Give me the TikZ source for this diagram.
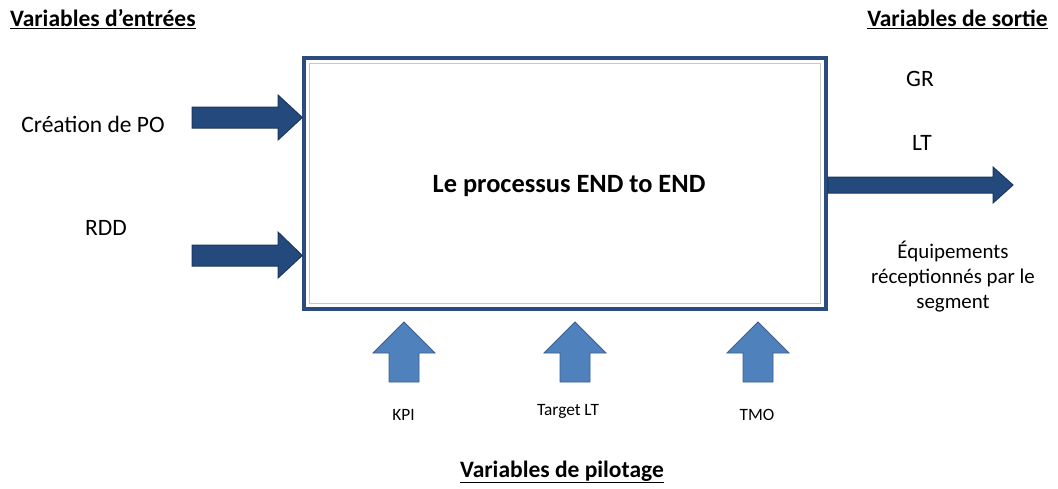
\documentclass[tikz,border=0pt]{standalone}
\usepackage{fontspec}
\setmainfont{Carlito}
\begin{document}
\begin{tikzpicture}[x=1pt,y=-1pt,
  darkarrow/.style={fill=arrowdark,draw=arrowdarkline,line width=1pt,line join=miter},
  lightarrow/.style={fill=arrowlight,draw=arrowlightline,line width=0.8pt,line join=miter},
  heading/.style={font=\fontsize{23.5}{26}\selectfont\bfseries,inner sep=0pt},
  label/.style={font=\fontsize{23.5}{26}\selectfont,inner sep=0pt},
  small/.style={font=\fontsize{17.3}{20}\selectfont,inner sep=0pt}]
\definecolor{arrowdark}{HTML}{24497D}
\definecolor{arrowdarkline}{HTML}{1B365F}
\definecolor{arrowlight}{HTML}{4F81BD}
\definecolor{arrowlightline}{HTML}{3A5F8F}
\definecolor{boxline}{HTML}{2B4C7E}
\definecolor{innerline}{HTML}{C8C8C8}
\useasboundingbox (0,0) rectangle (1058,488);
\fill[white] (0,0) rectangle (1058,488);

% process box
\node[draw=boxline,line width=3.5pt,minimum width=522pt,minimum height=251pt,inner sep=0pt]
  (proc) at (565,183.5) {};
\draw[innerline,line width=1pt] ([shift={(7,7)}]proc.north west) rectangle ([shift={(-7,-7)}]proc.south east);
\node[font=\fontsize{26.4}{30}\selectfont\bfseries,inner sep=0pt] (title) at (569,186) {Le processus END to END};

% headings
\node[heading,anchor=west] (hin) at (10,19) {\underline{Variables d’entrées}};
\node[heading,anchor=east] (hout) at (1048,19) {\underline{Variables de sortie}};
\node[heading] (hpil) at (562,472) {\underline{Variables de pilotage}};

% inputs
\node[label] (po) at (93,124) {Création de PO};
\node[label] (rdd) at (106,228) {RDD};
\coordinate (in1) at (proc.west |- 0,117.5);
\coordinate (in2) at (proc.west |- 0,255.5);
\draw[darkarrow] (192,107) -- (278,107) -- (278,95) -- (in1) -- (278,140) -- (278,128) -- (192,128) -- cycle;
\draw[darkarrow] (192,245) -- (278,245) -- (278,232) -- (in2) -- (278,278) -- (278,266) -- (192,266) -- cycle;

% output
\coordinate (out) at (1013,185);
\draw[darkarrow] (proc.east |- 0,177) -- (993,177) -- (993,167) -- (out) -- (993,203) -- (993,193) -- (proc.east |- 0,193) -- cycle;
\node[label] (gr) at (920,79) {GR};
\node[label] (lt) at (922,143) {LT};
\node[font=\fontsize{20.9}{25}\selectfont,align=center,inner sep=0pt] (equip) at (953,277)
  {Équipements\\réceptionnés par le\\segment};

% control arrows
\foreach \cx/\lx/\nm/\txt/\ty in {404/403.5/kpi/KPI/415, 575/568/tlt/Target LT/411, 758/757/tmo/TMO/415}{
  \draw[lightarrow] (\cx-15,382) -- (\cx-15,353) -- (\cx-31,353) -- (\cx,322) -- (\cx+31,353) -- (\cx+15,353) -- (\cx+15,382) -- cycle;
  \node[small] (\nm) at (\lx,\ty) {\txt};
}
\end{tikzpicture}
\end{document}
